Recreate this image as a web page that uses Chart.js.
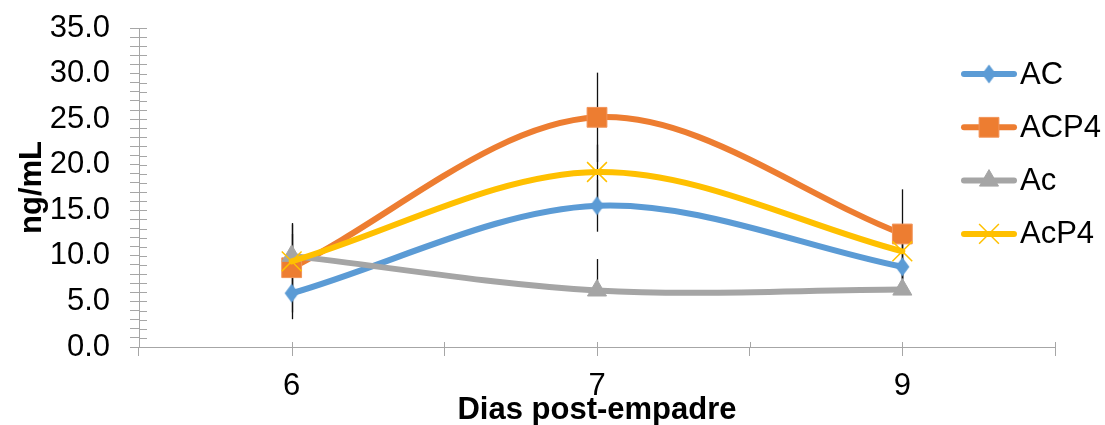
<!DOCTYPE html>
<html>
<head>
<meta charset="utf-8">
<script src="https://cdn.jsdelivr.net/npm/chart.js@4/dist/chart.umd.min.js"></script>
<style>
  html, body { margin: 0; padding: 0; background: #fff; }
  canvas { display: block; }
</style>
</head>
<body>
<canvas id="chart" width="1105" height="425"></canvas>
<script>
// Days after mating (categories)
const days = ['6', '7', '9'];

// Mean concentration per group (ng/mL)
const valuesAC   = [5.9, 15.5, 8.8];
const valuesACP4 = [8.7, 25.2, 12.4];
const valuesAc   = [10.0, 6.2, 6.3];
const valuesAcP4 = [9.4, 19.2, 10.5];

// Error bar extents (up / down) per group
const errUpAC     = [2.85, 2.85, 2.85];
const errDownAC   = [2.85, 2.85, 2.85];
const errUpACP4   = [4.9, 4.9, 4.9];
const errDownACP4 = [4.9, 4.9, 4.9];
const errUpAc     = [3.45, 3.45, 3.45];
const errDownAc   = [0, 0, 0];
const errUpAcP4   = [3.0, 3.0, 3.0];
const errDownAcP4 = [3.0, 3.0, 3.0];

// Y axis range and tick spacing
const yMin = 0;
const yMax = 35;
const yMinorStep = 1;
const yLabelStep = 5;

const AXIS = '#A6A6A6';
const FONT = '"Liberation Sans", Arial, sans-serif';
Chart.defaults.font.family = FONT;

// Slightly tall diamond marker for the AC series
function makeDiamond(w, h, color) {
  const c = document.createElement('canvas');
  c.width = w; c.height = h;
  const g = c.getContext('2d');
  g.fillStyle = color;
  g.beginPath();
  g.moveTo(w / 2, 0.5);
  g.lineTo(w - 0.5, h / 2);
  g.lineTo(w / 2, h - 0.5);
  g.lineTo(0.5, h / 2);
  g.closePath();
  g.fill();
  return c;
}
const diamond = makeDiamond(15, 20, '#5B9BD5');

// Vertical error bars, drawn underneath the lines
const errorBars = {
  id: 'errorBars',
  beforeDatasetsDraw(chart) {
    const { ctx, scales: { x, y } } = chart;
    ctx.save();
    ctx.strokeStyle = '#111';
    ctx.lineWidth = 1.3;
    chart.data.datasets.forEach(ds => {
      ds.data.forEach((v, i) => {
        const px = Math.round(x.getPixelForValue(i)) + 0.5;
        ctx.beginPath();
        ctx.moveTo(px, y.getPixelForValue(v + ds.errUp[i]));
        ctx.lineTo(px, y.getPixelForValue(v - ds.errDown[i]));
        ctx.stroke();
      });
    });
    ctx.restore();
  }
};

// Tick marks that cross the axes (inner halves, plus category-centre ticks)
const crossTicks = {
  id: 'crossTicks',
  beforeDatasetsDraw(chart) {
    const { ctx, chartArea, scales: { x, y } } = chart;
    ctx.save();
    ctx.strokeStyle = AXIS;
    ctx.lineWidth = 1;
    ctx.beginPath();
    y.ticks.forEach(t => {
      const py = Math.round(y.getPixelForValue(t.value)) + 0.5;
      ctx.moveTo(chartArea.left, py);
      ctx.lineTo(chartArea.left + 8, py);
    });
    const n = days.length;
    for (let i = 0; i <= n; i++) {
      const pb = Math.round(x.getPixelForValue(i - 0.5)) + 0.5;
      ctx.moveTo(pb, chartArea.bottom);
      ctx.lineTo(pb, chartArea.bottom - 5);
    }
    for (let i = 0; i < n; i++) {
      const pc = Math.round(x.getPixelForValue(i)) + 0.5;
      ctx.moveTo(pc, chartArea.bottom - 5);
      ctx.lineTo(pc, chartArea.bottom + 9);
    }
    ctx.stroke();
    ctx.restore();
  }
};

// Legend placed at the right, overlapping the plot area
const sideLegend = {
  id: 'sideLegend',
  afterDraw(chart) {
    const ctx = chart.ctx;
    const top = 74, gap = 53.3, lineX0 = 964, lineX1 = 1014, markX = 989, textX = 1020;
    ctx.save();
    chart.data.datasets.forEach((ds, i) => {
      const cy = top + i * gap;
      ctx.strokeStyle = ds.borderColor;
      ctx.lineWidth = 6;
      ctx.lineCap = 'round';
      ctx.beginPath();
      ctx.moveTo(lineX0, cy);
      ctx.lineTo(lineX1, cy);
      ctx.stroke();
      ctx.fillStyle = ds.pointBackgroundColor;
      ctx.strokeStyle = ds.pointBorderColor;
      ctx.lineWidth = ds.pointBorderWidth;
      ctx.lineCap = 'butt';
      Chart.helpers.drawPoint(ctx, {
        pointStyle: ds.pointStyle, radius: ds.pointRadius,
        borderWidth: ds.pointBorderWidth, rotation: 0
      }, markX, cy);
      ctx.fillStyle = '#000';
      ctx.font = '31px ' + FONT;
      ctx.textBaseline = 'middle';
      ctx.textAlign = 'left';
      ctx.fillText(ds.label, textX, cy + 1);
    });
    ctx.restore();
  }
};

function series(label, data, up, down, color, style, radius, fill, border, bw, order) {
  return {
    label, data, errUp: up, errDown: down,
    borderColor: color, borderWidth: 6,
    borderCapStyle: 'round', borderJoinStyle: 'round',
    tension: 0.33, fill: false,
    pointStyle: style, pointRadius: radius, pointHoverRadius: radius,
    pointBackgroundColor: fill, pointBorderColor: border, pointBorderWidth: bw,
    order
  };
}

new Chart(document.getElementById('chart'), {
  type: 'line',
  data: {
    labels: days,
    datasets: [
      series('AC',   valuesAC,   errUpAC,   errDownAC,   '#5B9BD5', diamond,    10, '#5B9BD5', '#5B9BD5', 0,   3),
      series('ACP4', valuesACP4, errUpACP4, errDownACP4, '#ED7D31', 'rect',     14, '#ED7D31', '#F29358', 1,   2),
      series('Ac',   valuesAc,   errUpAc,   errDownAc,   '#A5A5A5', 'triangle', 11, '#A5A5A5', '#A5A5A5', 1,   1),
      series('AcP4', valuesAcP4, errUpAcP4, errDownAcP4, '#FFC000', 'crossRot', 14, '#FFC000', '#FFC000', 1.5, 0)
    ]
  },
  options: {
    responsive: false,
    animation: false,
    events: [],
    layout: { padding: { top: 28, right: 50, left: 0, bottom: 0 } },
    plugins: { legend: { display: false }, tooltip: { enabled: false } },
    scales: {
      x: {
        type: 'category',
        offset: true,
        border: { color: AXIS, width: 1 },
        grid: { offset: true, drawOnChartArea: false, tickLength: 9, color: AXIS },
        ticks: { padding: 12, color: '#000', font: { size: 31 }, maxRotation: 0, autoSkip: false },
        title: {
          display: true, text: 'Dias post-empadre', color: '#000',
          font: { size: 31, weight: 'bold', lineHeight: 1 }, padding: { top: 0, bottom: -1 }
        },
        afterFit(scale) { scale.height = 78; }
      },
      y: {
        min: yMin, max: yMax,
        border: { color: AXIS, width: 1 },
        grid: { drawOnChartArea: false, tickLength: 9, color: AXIS },
        ticks: {
          stepSize: yMinorStep, autoSkip: false, padding: 20, color: '#000',
          font: { size: 31 },
          callback: v => (v % yLabelStep === 0 ? v.toFixed(1) : '')
        },
        title: {
          display: true, text: 'ng/mL', color: '#000',
          font: { size: 31, weight: 'bold', lineHeight: 1 }, padding: { top: 17 }
        },
        afterFit(scale) {
          scale.width = 139;
          scale.paddingTop = 0;
          scale.paddingBottom = 0;
        }
      }
    }
  },
  plugins: [errorBars, crossTicks, sideLegend]
});
</script>
</body>
</html>
